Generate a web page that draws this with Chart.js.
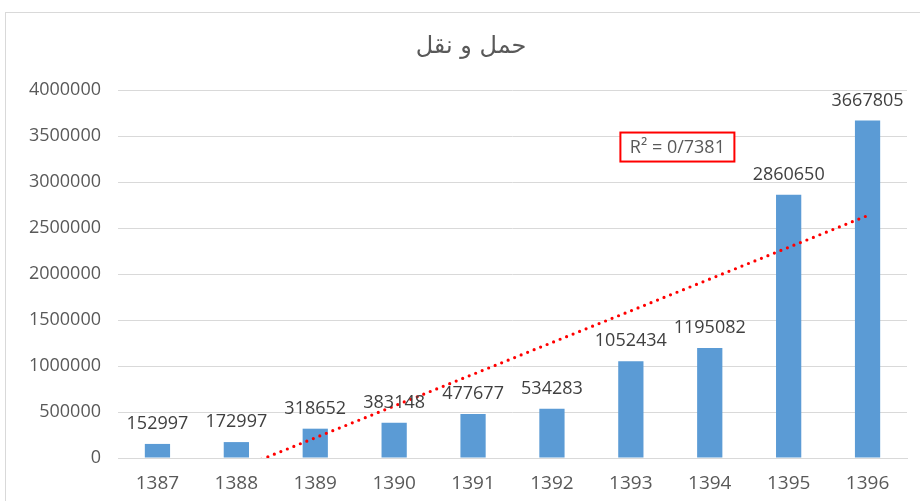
<!DOCTYPE html>
<html>
<head>
<meta charset="utf-8">
<script src="https://cdn.jsdelivr.net/npm/chart.js@4/dist/chart.umd.min.js"></script>
<style>
  html, body { margin: 0; padding: 0; background: #ffffff; overflow: hidden; }
  #frame { position: absolute; left: 5px; top: 12px; width: 1000px; height: 600px; border: 1px solid #d9d9d9; box-sizing: border-box; }
  #wrap { position: absolute; left: 0; top: 0; width: 920px; height: 501px; }
</style>
</head>
<body>
<div id="frame"></div>
<div id="wrap"><canvas id="c" width="920" height="501"></canvas></div>
<script>
const chartTitle = "حمل و نقل";
const categories = ["1387", "1388", "1389", "1390", "1391", "1392", "1393", "1394", "1395", "1396"];
const values = [152997, 172997, 318652, 383148, 477677, 534283, 1052434, 1195082, 2860650, 3667805];
// linear trendline (clipped at 0 by the axis)
const trendValues = [-470000, -125000, 220000, 565000, 910000, 1255000, 1600000, 1945000, 2290000, 2635000];
const yTicks = [0, 500000, 1000000, 1500000, 2000000, 2500000, 3000000, 3500000, 4000000];
const r2Label = "R² = 0/7381";
const r2Anchor = { x: 6.59, y: 3380000 };

const titlePlugin = {
  id: 'titlePlugin',
  afterDraw(chart) {
    const ctx = chart.ctx;
    ctx.save();
    ctx.font = '24px "DejaVu Sans", sans-serif';
    ctx.fillStyle = '#595959';
    ctx.textAlign = 'center';
    ctx.textBaseline = 'middle';
    ctx.fillText(chartTitle, 471, 47);
    ctx.restore();
  }
};

const dataLabels = {
  id: 'dataLabels',
  afterDatasetsDraw(chart) {
    const ctx = chart.ctx;
    const meta = chart.getDatasetMeta(1);
    ctx.save();
    ctx.font = '18px "Open Sans", sans-serif';
    ctx.fillStyle = '#404040';
    ctx.textAlign = 'center';
    ctx.textBaseline = 'middle';
    meta.data.forEach((bar, i) => {
      ctx.fillText(String(values[i]), bar.x, bar.y - 20);
    });
    ctx.restore();
  }
};

const r2Box = {
  id: 'r2Box',
  afterDraw(chart) {
    const ctx = chart.ctx;
    const x = chart.scales.x.getPixelForValue(r2Anchor.x);
    const y = chart.scales.y.getPixelForValue(r2Anchor.y);
    ctx.save();
    ctx.font = '18px "Open Sans", sans-serif';
    const w = 114;
    const h = 29;
    ctx.fillStyle = '#ffffff';
    ctx.fillRect(x - w / 2, y - h / 2, w, h);
    ctx.strokeStyle = '#ff0000';
    ctx.lineWidth = 2;
    ctx.strokeRect(x - w / 2, y - h / 2, w, h);
    ctx.fillStyle = '#595959';
    ctx.textAlign = 'center';
    ctx.textBaseline = 'middle';
    ctx.fillText(r2Label, x, y + 1);
    ctx.restore();
  }
};

new Chart(document.getElementById('c'), {
  data: {
    labels: categories,
    datasets: [
      {
        type: 'line',
        data: trendValues,
        borderColor: '#ff0000',
        borderWidth: 3.2,
        borderDash: [0, 7],
        borderCapStyle: 'round',
        pointRadius: 0,
        fill: false,
        tension: 0,
        order: 0
      },
      {
        type: 'bar',
        data: values,
        backgroundColor: '#5b9bd5',
        borderWidth: 0,
        categoryPercentage: 1,
        barPercentage: 0.32,
        order: 1
      }
    ]
  },
  options: {
    responsive: false,
    animation: false,
    devicePixelRatio: 1,
    layout: { padding: { left: 0, right: 13, top: 90, bottom: 0 } },
    plugins: {
      legend: { display: false },
      tooltip: { enabled: false },
      title: { display: false }
    },
    scales: {
      x: {
        grid: { display: false, drawTicks: false },
        border: { display: true, color: '#d9d9d9', width: 1 },
        ticks: { color: '#595959', font: { family: '"Open Sans", sans-serif', size: 19 }, padding: 14, maxRotation: 0 },
        afterFit(scale) { scale.height = 43; }
      },
      y: {
        min: 0,
        max: 4000000,
        afterBuildTicks(scale) { scale.ticks = yTicks.map(v => ({ value: v })); },
        grid: { color: '#d9d9d9', lineWidth: 1, drawTicks: false },
        border: { display: false },
        ticks: { color: '#595959', font: { family: '"Open Sans", sans-serif', size: 18 }, padding: 17, callback: v => String(v) },
        afterFit(scale) { scale.width = 118; }
      }
    }
  },
  plugins: [titlePlugin, dataLabels, r2Box]
});
</script>
</body>
</html>
